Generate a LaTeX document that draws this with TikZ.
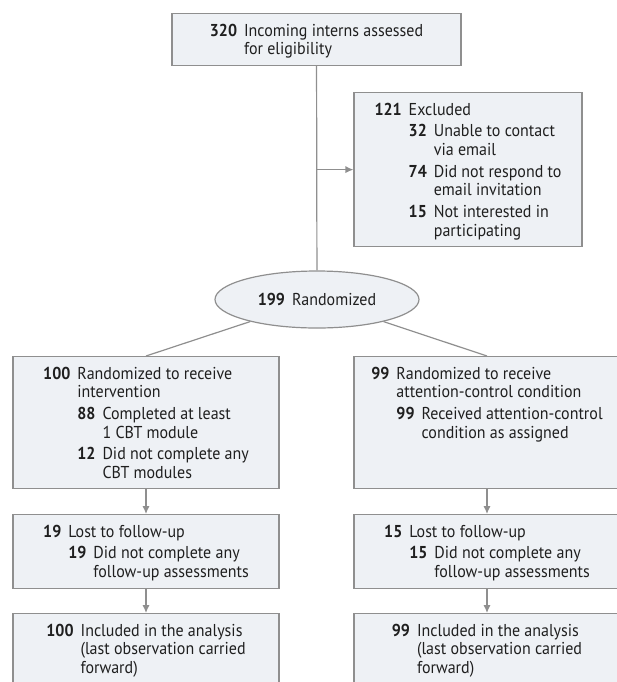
\documentclass[tikz,border=0pt]{standalone}
\usepackage{fontspec}
\setmainfont{PT Sans}[FakeStretch=0.93]
\usepackage{tikz}
\usetikzlibrary{shapes.geometric,arrows.meta}
\definecolor{boxfill}{rgb}{0.933, 0.945, 0.961}
\definecolor{edge}{rgb}{0.56, 0.56, 0.56}
\definecolor{ink}{rgb}{0.12, 0.12, 0.12}
\tikzstyle{box}=[draw=edge, fill=boxfill, line width=0.6pt, anchor=north, inner xsep=0pt, inner ysep=0pt, text height=11.25pt, text=ink]
\tikzstyle{link}=[edge, line width=0.6pt]
\tikzstyle{arr}=[link, -{Latex[length=4pt,width=3.6pt]}]
\newcommand{\nb}[1]{\textbf{#1}}

\begin{document}
\begin{tikzpicture}[x=0.5pt, y=-0.5pt, font=\fontsize{8.6}{9.4}\selectfont]
\useasboundingbox (0,0) rectangle (617,682);
\clip (0,0) rectangle (617,682);
\node[box, minimum width=144.5pt, text depth=14.75pt] (elig) at (316.5,13) {\begin{tabular}[t]{@{}r@{\hspace{3.5pt}}l@{}}
\nb{320} & Incoming interns assessed\\
 & for eligibility
\end{tabular}};
\node[box, minimum width=114pt, text depth=65.75pt] (excl) at (468,92) {\begin{tabular}[t]{@{}r@{\hspace{3.5pt}}l@{}}
\nb{121} & Excluded\\[1.4pt]
 & \begin{tabular}[t]{@{}r@{\hspace{3.5pt}}l@{}}
 \nb{32} & Unable to contact\\
  & via email\\[1.4pt]
 \nb{74} & Did not respond to\\
  & email invitation\\[1.4pt]
 \nb{15} & Not interested in\\
  & participating
 \end{tabular}
\end{tabular}};
\node[draw=edge, fill=boxfill, line width=0.6pt, ellipse, minimum width=102pt, minimum height=28.5pt, inner sep=0pt, text=ink] (rand) at (317,299.5) {\nb{199}\hspace{3.5pt}Randomized};
\node[box, minimum width=133pt, text depth=54.75pt] (int) at (146,356) {\begin{tabular}[t]{@{}r@{\hspace{3.5pt}}l@{}}
\nb{100} & Randomized to receive\\
 & intervention\\[1.4pt]
 & \begin{tabular}[t]{@{}r@{\hspace{3.5pt}}l@{}}
 \nb{88} & Completed at least\\
  & 1 CBT module\\[1.4pt]
 \nb{12} & Did not complete any\\
  & CBT modules
 \end{tabular}
\end{tabular}};
\node[box, minimum width=133pt, text depth=54.75pt] (ctl) at (487,356) {\begin{tabular}[t]{@{}r@{\hspace{3.5pt}}l@{}}
\nb{99} & Randomized to receive\\
 & attention-control condition\\[1.4pt]
 & \begin{tabular}[t]{@{}r@{\hspace{3.5pt}}l@{}}
 \nb{99} & Received attention-control\\
  & condition as assigned
 \end{tabular}
\end{tabular}};
\node[box, minimum width=133pt, text depth=25.75pt] (lostA) at (146,514) {\begin{tabular}[t]{@{}r@{\hspace{3.5pt}}l@{}}
\nb{19} & Lost to follow-up\\[1.4pt]
 & \begin{tabular}[t]{@{}r@{\hspace{3.5pt}}l@{}}
 \nb{19} & Did not complete any\\
  & follow-up assessments
 \end{tabular}
\end{tabular}};
\node[box, minimum width=133pt, text depth=25.75pt] (lostB) at (487,514) {\begin{tabular}[t]{@{}r@{\hspace{3.5pt}}l@{}}
\nb{15} & Lost to follow-up\\[1.4pt]
 & \begin{tabular}[t]{@{}r@{\hspace{3.5pt}}l@{}}
 \nb{15} & Did not complete any\\
  & follow-up assessments
 \end{tabular}
\end{tabular}};
\node[box, minimum width=133pt, text depth=25.75pt] (anaA) at (146,613) {\begin{tabular}[t]{@{}r@{\hspace{3.5pt}}l@{}}
\nb{100} & Included in the analysis\\
 & (last observation carried\\
 & forward)
\end{tabular}};
\node[box, minimum width=133pt, text depth=25.75pt] (anaB) at (487,613) {\begin{tabular}[t]{@{}r@{\hspace{3.5pt}}l@{}}
\nb{99} & Included in the analysis\\
 & (last observation carried\\
 & forward)
\end{tabular}};
\coordinate (m) at (elig.south |- excl.west);
\draw[link] (elig) -- (rand);
\draw[arr] (m) -- (excl);
\draw[link] (rand) -- (int.north);
\draw[link] (rand) -- (ctl.north);
\draw[arr] (int) -- (lostA);
\draw[arr] (ctl) -- (lostB);
\draw[arr] (lostA) -- (anaA);
\draw[arr] (lostB) -- (anaB);
\end{tikzpicture}
\end{document}
